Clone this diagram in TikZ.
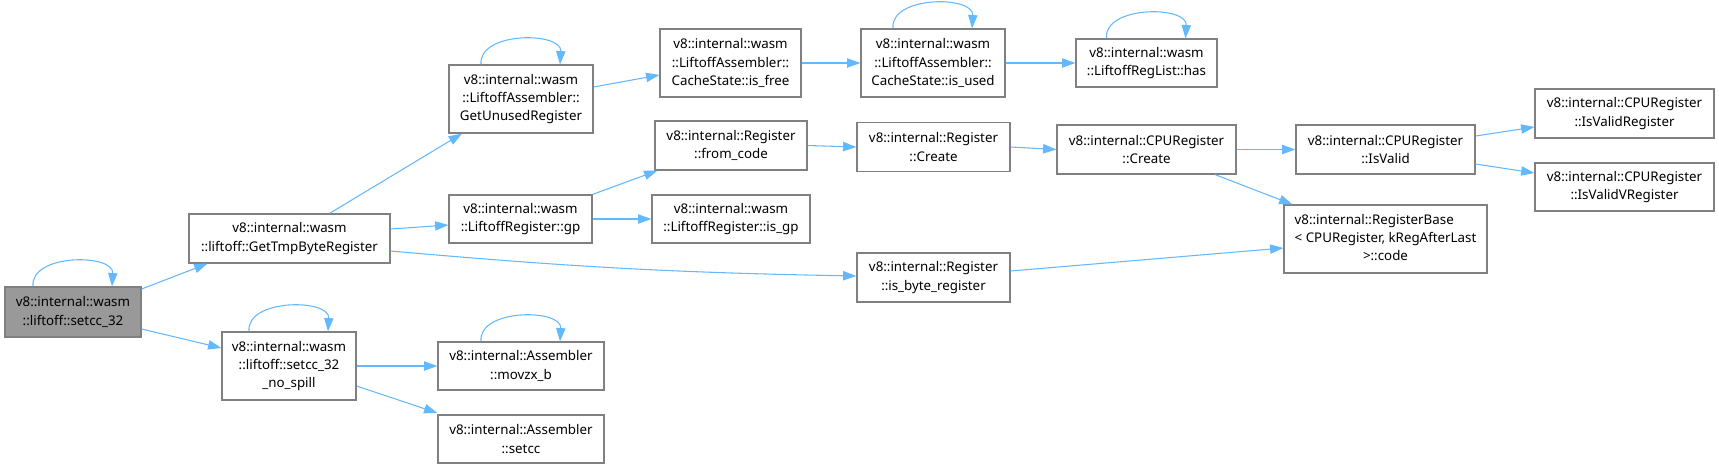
\documentclass[tikz,border=0pt]{standalone}
\usepackage{fontspec}
\setmainfont{Noto Sans}
\usetikzlibrary{arrows.meta,calc}
\definecolor{edgec}{HTML}{63B8FF}
\definecolor{borderc}{HTML}{808080}
\definecolor{hifill}{HTML}{999999}
\begin{document}
\begin{tikzpicture}[x=0.75pt,y=-0.75pt,
  box/.style={draw=borderc,line width=0.9pt,fill=white,align=center,inner sep=0pt,
    font=\fontsize{10}{13.7}\selectfont,text=black},
  hibox/.style={box,fill=hifill},
  edge/.style={draw=edgec,line width=0.8pt,-{Triangle[length=10pt,width=7pt]}},
  wh/.style 2 args={minimum width=#1*0.75pt,minimum height=#2*0.75pt}]
\useasboundingbox (0,0) rectangle (1719,469);
% nodes
\node[hibox,wh={136}{50}] (s32) at (73,312) {v8::internal::wasm\\::liftoff::setcc\_32};
\node[box,wh={201}{49}] (gtb) at (289.5,238.5) {v8::internal::wasm\\::liftoff::GetTmpByteRegister};
\node[box,wh={134}{68}] (nsp) at (289,366) {v8::internal::wasm\\::liftoff::setcc\_32\\\_no\_spill};
\node[box,wh={144}{68}] (gur) at (521,99) {v8::internal::wasm\\::LiftoffAssembler::\\GetUnusedRegister};
\node[box,wh={143}{48}] (gp) at (520.5,219) {v8::internal::wasm\\::LiftoffRegister::gp};
\node[box,wh={166}{48}] (mzx) at (521,366) {v8::internal::Assembler\\::movzx\_b};
\node[box,wh={166}{48}] (stc) at (521,439) {v8::internal::Assembler\\::setcc};
\node[box,wh={141}{68}] (isf) at (730.5,63) {v8::internal::wasm\\::LiftoffAssembler::\\CacheState::is\_free};
\node[box,wh={152}{49}] (frc) at (731,145.5) {v8::internal::Register\\::from\_code};
\node[box,wh={158}{48}] (isgp) at (731,219) {v8::internal::wasm\\::LiftoffRegister::is\_gp};
\node[box,wh={144}{68}] (isu) at (933,63) {v8::internal::wasm\\::LiftoffAssembler::\\CacheState::is\_used};
\node[box,wh={153}{49}] (rcr) at (933.5,147) {v8::internal::Register\\::Create};
\node[box,wh={153}{49}] (ibr) at (933.5,277.5) {v8::internal::Register\\::is\_byte\_register};
\node[box,wh={141}{48}] (has) at (1146.5,63) {v8::internal::wasm\\::LiftoffRegList::has};
\node[box,wh={179}{49}] (ccr) at (1146.5,149.5) {v8::internal::CPURegister\\::Create};
\node[box,wh={179}{49}] (isv) at (1385.5,149.5) {v8::internal::CPURegister\\::IsValid};
\node[box,wh={203}{68}] (rb) at (1385.5,239) {\begin{tabular}{@{}l@{}}v8::internal::RegisterBase\\\textless{} CPURegister, kRegAfterLast\\\multicolumn{1}{@{}c@{}}{\textgreater::code}\end{tabular}};
\node[box,wh={179}{49}] (ivr) at (1624.5,113.5) {v8::internal::CPURegister\\::IsValidRegister};
\node[box,wh={179}{48}] (ivv) at (1624.5,187) {v8::internal::CPURegister\\::IsValidVRegister};
% self loops
\foreach \n in {s32,gur,isu,has,nsp,mzx}{
  \draw[edge] ($(\n.north)+(-40,0)$) .. controls +(-3,-33) and +(2,-33) .. ($(\n.north)+(39,0)$);
}
% edges
\draw[edge] ($(s32.east)+(0,-23)$) -- ($(gtb.south)+(-82,0)$);
\draw[edge] ($(s32.east)+(0,17)$) -- ($(nsp.west)+(0,-18)$);
\draw[edge] ($(gtb.north)+(40,0)$) -- ($(gur.south)+(-59,0)$);
\draw[edge] ($(gtb.east)+(0,-9.5)$) -- ($(gp.west)+(0,6)$);
\draw[edge] ($(gtb.east)+(0,12.5)$) to[bend right=2] ($(ibr.west)+(0,-1.5)$);
\draw[edge] ($(gur.east)+(0,-12)$) -- ($(isf.west)+(0,12)$);
\draw[edge] (isf.east) -- (isu.west);
\draw[edge] (isu.east) -- (has.west);
\draw[edge] (gp.north east) -- ($(frc.south west)+(3,0)$);
\draw[edge] (gp.east) -- (isgp.west);
\draw[edge] (frc.east) -- (rcr.west);
\draw[edge] (rcr.east) -- (ccr.west);
\draw[edge] (ccr.east) -- (isv.west);
\draw[edge] ($(ccr.south)+(68.5,0)$) -- ($(rb.north west)+(9,0)$);
\draw[edge] ($(isv.east)+(0,-13.5)$) -- ($(ivr.west)+(0,13.5)$);
\draw[edge] ($(isv.east)+(0,14.5)$) -- ($(ivv.west)+(0,-14)$);
\draw[edge] ($(ibr.east)+(0,-6.5)$) -- ($(rb.west)+(0,9)$);
\draw[edge] (nsp.east) -- (mzx.west);
\draw[edge] ($(nsp.east)+(0,20)$) -- ($(stc.west)+(0,-26)$);
\end{tikzpicture}
\end{document}
